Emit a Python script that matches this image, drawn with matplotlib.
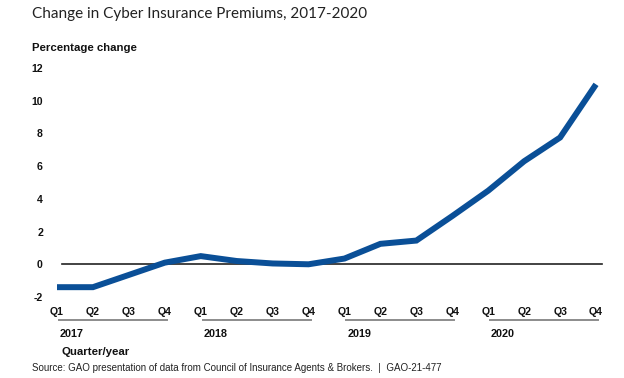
import matplotlib
matplotlib.use('Agg')
from matplotlib import pyplot as plt
import matplotlib.transforms as mtransforms

quarters = ['Q1', 'Q2', 'Q3', 'Q4'] * 4
years = ['2017', '2018', '2019', '2020']
premium_change = [-1.4, -1.4, -0.65, 0.1, 0.5, 0.2, 0.05, 0.0,
                  0.35, 1.25, 1.45, 2.95, 4.5, 6.3, 7.75, 11.0]
y_ticks = [-2, 0, 2, 4, 6, 8, 10, 12]

W, H = 624, 378
fig = plt.figure(figsize=(W / 100, H / 100), dpi=100)
ax = fig.add_axes([45 / W, 1 - 301.9 / H, (606.8 - 45) / W, (301.9 - 63.1) / H])

x = list(range(len(premium_change)))
ax.axhline(0, xmin=0.03, xmax=0.991, color='#222222', lw=1.2, zorder=1)
ax.plot(x, premium_change, color='#0a4f97', lw=4.3, solid_capstyle='butt',
        solid_joinstyle='miter', zorder=2)

ax.set_xlim(-0.334, 15.3)
ax.set_ylim(-2.3, 12.3)
ax.set_yticks(y_ticks)
ax.set_yticklabels([str(v) for v in y_ticks], fontfamily='Liberation Sans',
                   fontweight='bold', fontsize=7.6)
ax.set_xticks(x)
ax.set_xticklabels(quarters, fontfamily='Liberation Sans', fontweight='bold',
                   fontsize=7.6)
ax.tick_params(axis='y', length=0, pad=1.5, colors='#111111')
ax.tick_params(axis='x', length=0, pad=3.8, colors='#111111')
for s in ax.spines.values():
    s.set_visible(False)

# year brackets under the quarter labels
trans = mtransforms.blended_transform_factory(ax.transData, ax.transAxes)
for i, yr in enumerate(years):
    q1 = i * 4
    ax.plot([q1 + 0.05, q1 + 3.06], [-0.0758, -0.0758], color='#8c8c8c',
            lw=1.4, transform=trans, clip_on=False)
    ax.text(q1 + 0.08, -0.134, yr, transform=trans, ha='left', va='center',
            fontfamily='Liberation Sans', fontweight='bold', fontsize=7.8,
            color='#111111')

fig.text(32 / W, 1 - 14 / H, 'Change in Cyber Insurance Premiums, 2017-2020',
         fontfamily='Lato', fontsize=11, color='#222222', ha='left', va='center')
fig.text(32 / W, 1 - 48 / H, 'Percentage change', fontfamily='Liberation Sans',
         fontweight='bold', fontsize=8.2, color='#111111', ha='left', va='center')
fig.text(61 / W, 1 - 352 / H, 'Quarter/year', fontfamily='Liberation Sans',
         fontweight='bold', fontsize=8.2, color='#111111', ha='left', va='center')
fig.text(32 / W, 1 - 368 / H,
         'Source: GAO presentation of data from Council of Insurance Agents & Brokers.  |  GAO-21-477',
         fontfamily='Liberation Sans', fontsize=7.0, color='#222222',
         ha='left', va='center')

fig.savefig('out.png', dpi=100)
